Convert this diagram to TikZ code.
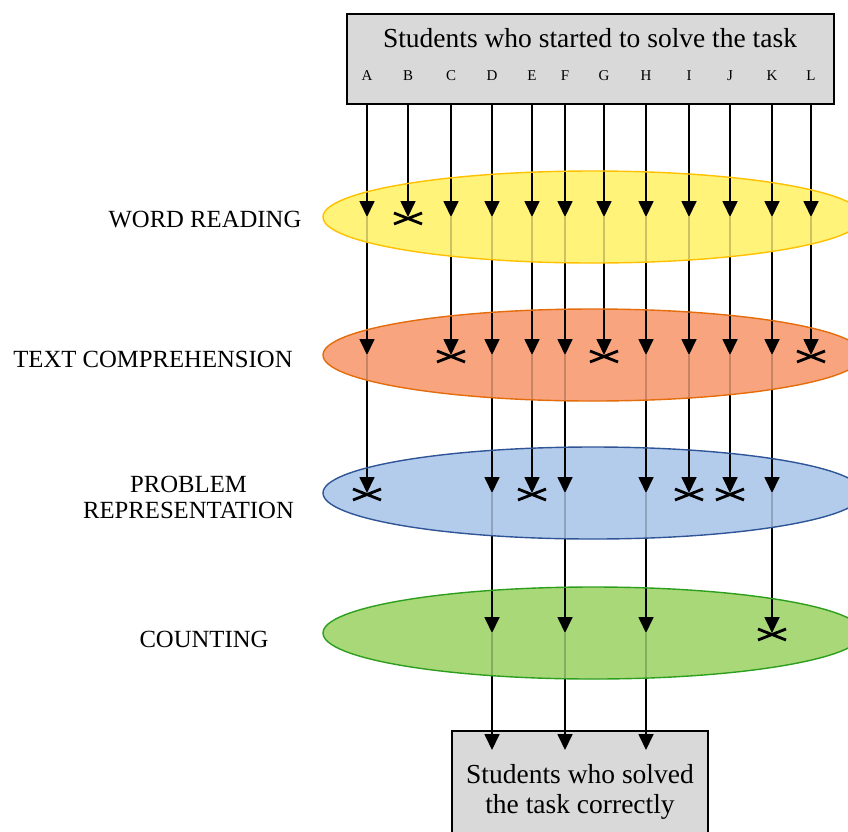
\documentclass[tikz,border=0pt]{standalone}
\usepackage{fontspec}
\setmainfont{Liberation Serif}
\usetikzlibrary{shapes.geometric,arrows.meta}
\definecolor{boxgray}{HTML}{D9D9D9}
\definecolor{yfill}{HTML}{FFF37A}
\definecolor{yline}{HTML}{FFC000}
\definecolor{ofill}{HTML}{F8A57F}
\definecolor{oline}{HTML}{E46C0A}
\definecolor{bfill}{HTML}{B4CCEC}
\definecolor{bline}{HTML}{2F5597}
\definecolor{gfill}{HTML}{A8D878}
\definecolor{gline}{HTML}{2E9E1E}
\begin{document}
\begin{tikzpicture}[x=1pt,y=-1pt,
  stagebox/.style={ellipse, minimum width=540pt, minimum height=92pt, inner sep=0pt},
  graybox/.style={draw=black, line width=1.2pt, fill=boxgray, inner sep=0pt},
  flow/.style={line width=1.7pt, -{Triangle[length=16pt,width=15pt]}},
  cross/.style={line width=2.8pt},
  lab/.style={font=\fontsize{24.7}{28}\selectfont, anchor=base},
  big/.style={font=\fontsize{27.5}{31}\selectfont, anchor=base},
  small/.style={font=\fontsize{15}{18}\selectfont, anchor=base}]
\useasboundingbox (0,0) rectangle (848,831);
\clip (0,0) rectangle (848,831);

% boxes
\node[graybox, minimum width=487pt, minimum height=90pt] (top) at (590.5,59) {};
\node[graybox, minimum width=256pt, minimum height=110pt] (bot) at (580,786) {};
\coordinate (botin) at (580,750);

% stage ellipses (fill)
\node[stagebox, fill=yfill] (w) at (593,217) {};
\node[stagebox, fill=ofill] (t) at (593,355) {};
\node[stagebox, fill=bfill] (p) at (593,493) {};
\node[stagebox, fill=gfill] (c) at (593,633) {};

% columns
\foreach \c/\x in {A/367,B/408,C/451,D/492,E/532,F/565,G/604,H/646,I/689,J/730,K/772,L/811}{
  \coordinate (x\c) at (\x,0);
  \node[small] (lab\c) at (\x,80) {\c};
}

% connectors
\foreach \c in {A,B,C,D,E,F,G,H,I,J,K,L}
  \draw[flow] (x\c |- top.south) -- (x\c |- w.center);
\foreach \c in {A,C,D,E,F,G,H,I,J,K,L}
  \draw[flow] (x\c |- w.center) -- (x\c |- t.center);
\foreach \c in {A,D,E,F,H,I,J,K}
  \draw[flow] (x\c |- t.center) -- (x\c |- p.center);
\foreach \c in {D,F,H,K}
  \draw[flow] (x\c |- p.center) -- (x\c |- c.center);
\foreach \c in {D,F,H}
  \draw[flow] (x\c |- c.center) -- (x\c |- botin);

% lower halves of ellipses veil the lines
\foreach \n/\col in {w/yfill,t/ofill,p/bfill,c/gfill}{
  \begin{scope}
    \clip ([xshift=-300pt]\n.center) rectangle ([xshift=300pt,yshift=-60pt]\n.center);
    \fill[\col, fill opacity=0.8] (\n.center) ellipse [x radius=270pt, y radius=46pt];
  \end{scope}
}
% ellipse borders
\foreach \n/\col in {w/yline,t/oline,p/bline,c/gline}
  \draw[\col, line width=1.4pt] (\n.center) ellipse [x radius=270pt, y radius=46pt];

% crosses where students stopped
\foreach \n/\c in {w/B,t/C,t/G,t/L,p/A,p/E,p/I,p/J,c/K}{
  \coordinate (m) at ([yshift=-1.5pt]x\c |- \n.center);
  \draw[cross] ([shift={(-14pt,5.5pt)}]m) -- ([shift={(14pt,-5.5pt)}]m)
               ([shift={(-14pt,-5.5pt)}]m) -- ([shift={(14pt,5.5pt)}]m);
}

% texts
\node[big] (title) at (590,47) {Students who started to solve the task};
\node[big] (bt1) at (580,783) {Students who solved};
\node[big] (bt2) at (580,813) {the task correctly};
\node[lab] (lw) at (205,227) {WORD READING};
\node[lab] (lt) at (153,367) {TEXT COMPREHENSION};
\node[lab] (lp1) at (188.5,492) {PROBLEM};
\node[lab] (lp2) at (188.5,518) {REPRESENTATION};
\node[lab] (lc) at (204,647) {COUNTING};
\end{tikzpicture}
\end{document}
